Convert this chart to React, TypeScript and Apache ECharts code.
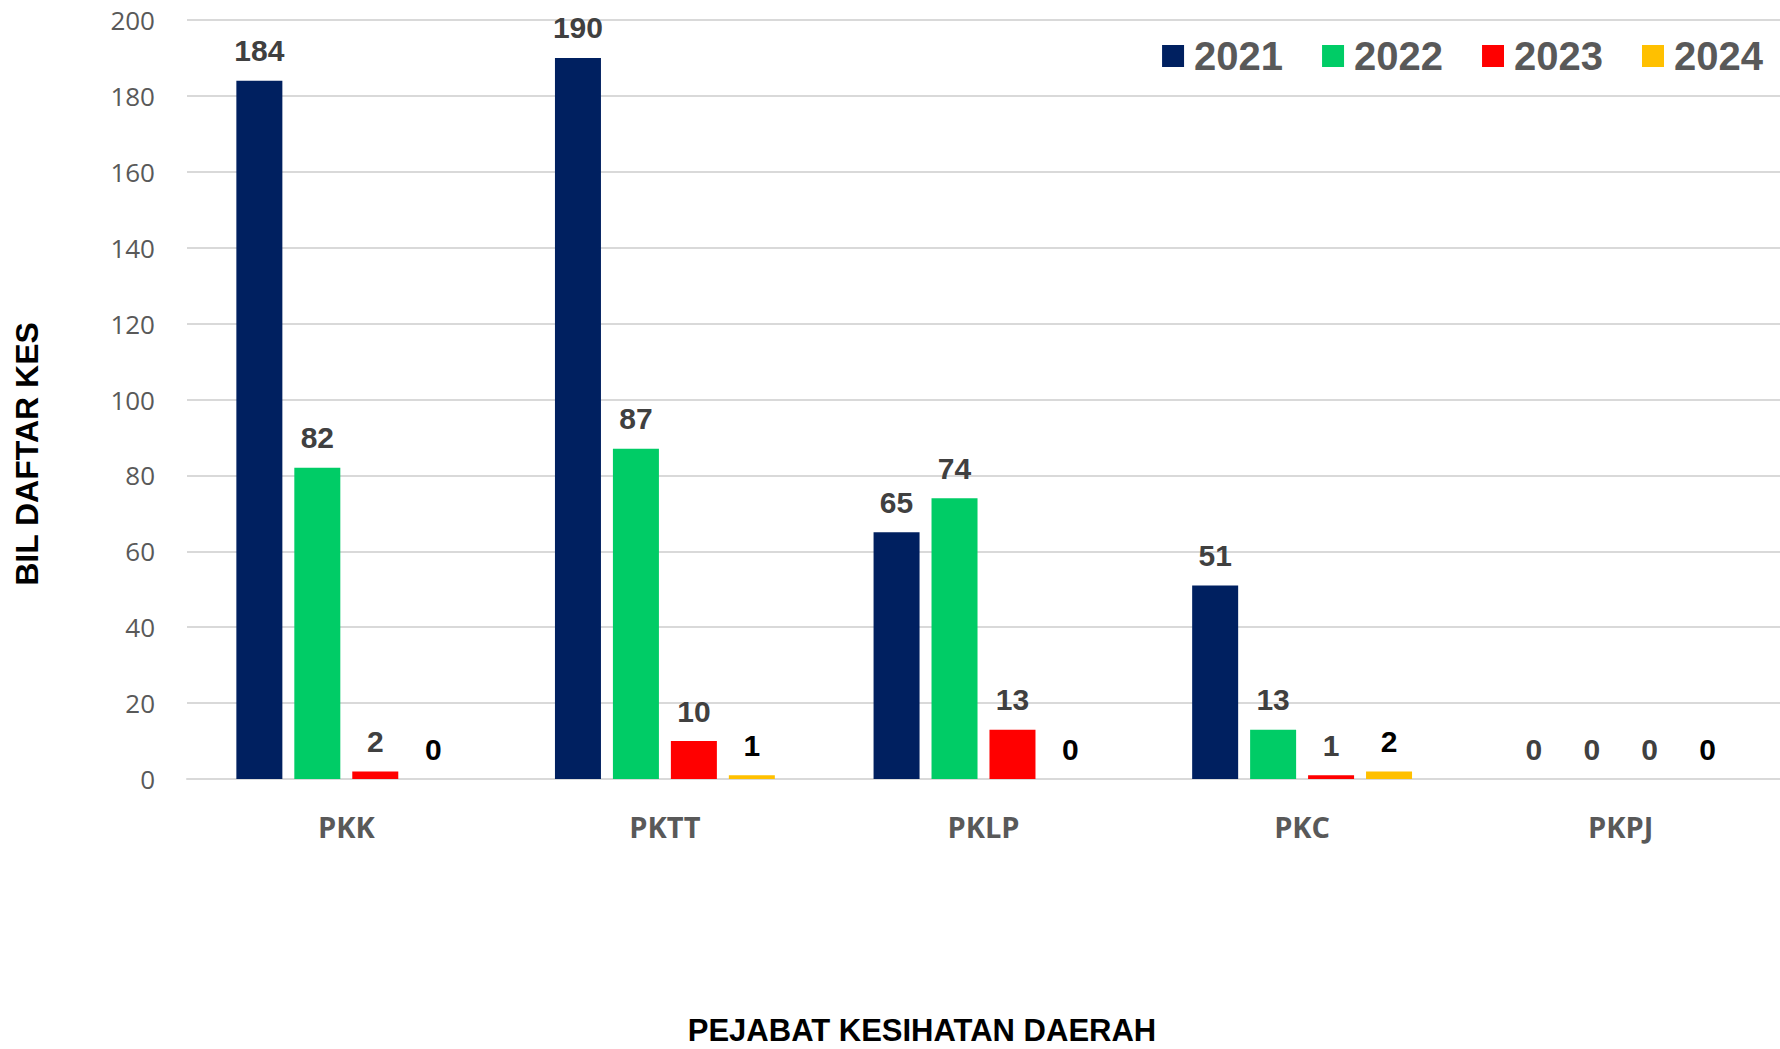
import React, { useEffect, useRef } from "react";
import * as echarts from "echarts";

const categories = ["PKK", "PKTT", "PKLP", "PKC", "PKPJ"];
const years = ["2021", "2022", "2023", "2024"];
const v2021 = [184, 190, 65, 51, 0];
const v2022 = [82, 87, 74, 13, 0];
const v2023 = [2, 10, 13, 1, 0];
const v2024 = [0, 1, 0, 2, 0];
const seriesValues = [v2021, v2022, v2023, v2024];
const seriesColors = ["#002060", "#00CC66", "#FF0000", "#FFC000"];
const labelColors = ["#404040", "#404040", "#404040", "#000000"];
const yAxisTitle = "BIL DAFTAR KES";
const xAxisTitle = "PEJABAT KESIHATAN DAERAH";

export default function App() {
  const ref = useRef<HTMLDivElement>(null);
  useEffect(() => {
    document.body.style.margin = "0";
    document.body.style.overflow = "hidden";
    const chart = echarts.init(ref.current!, null, { renderer: "svg" });
    chart.setOption({
      animation: false,
      backgroundColor: "#ffffff",
      grid: { left: 187, right: 0, top: 20, bottom: 270, containLabel: false },
      legend: {
        data: years,
        right: 12,
        top: 31,
        icon: "rect",
        itemWidth: 22,
        itemHeight: 22,
        itemGap: 39,
        textStyle: {
          fontFamily: "Liberation Sans",
          fontWeight: "bold",
          fontSize: 40,
          color: "#595959",
          padding: [0, 0, 0, 5],
        },
      },
      xAxis: {
        type: "category",
        data: categories,
        axisLine: { show: true, lineStyle: { color: "#d9d9d9", width: 2 } },
        axisTick: { show: false },
        axisLabel: {
          margin: 33,
          fontFamily: "Open Sans",
          fontWeight: "bold",
          fontSize: 29,
          color: "#595959",
        },
      },
      yAxis: {
        type: "value",
        min: 0,
        max: 200,
        interval: 20,
        axisLine: { show: false },
        axisTick: { show: false },
        splitLine: { lineStyle: { color: "#d9d9d9", width: 2 } },
        axisLabel: {
          margin: 32,
          fontFamily: "Open Sans",
          fontSize: 26,
          color: "#595959",
        },
      },
      graphic: [
        {
          type: "text",
          x: 27,
          y: 454,
          rotation: Math.PI / 2,
          style: {
            text: yAxisTitle,
            fontFamily: "Liberation Sans",
            fontWeight: "bold",
            fontSize: 32,
            fill: "#000000",
            align: "center",
            verticalAlign: "middle",
          },
        },
        {
          type: "text",
          x: 922,
          y: 1030,
          style: {
            text: xAxisTitle,
            fontFamily: "Liberation Sans",
            fontWeight: "bold",
            fontSize: 31,
            fill: "#000000",
            align: "center",
            verticalAlign: "middle",
          },
        },
      ],
      series: years.map((y, i) => ({
        name: y,
        type: "bar",
        data: seriesValues[i],
        barWidth: 46,
        barGap: "26%",
        itemStyle: { color: seriesColors[i] },
        label: {
          show: true,
          position: "top",
          distance: 15,
          fontFamily: "Liberation Sans",
          fontWeight: "bold",
          fontSize: 30,
          color: labelColors[i],
        },
      })),
    });
    return () => chart.dispose();
  }, []);
  return <div ref={ref} style={{ width: 1780, height: 1049 }} />;
}
